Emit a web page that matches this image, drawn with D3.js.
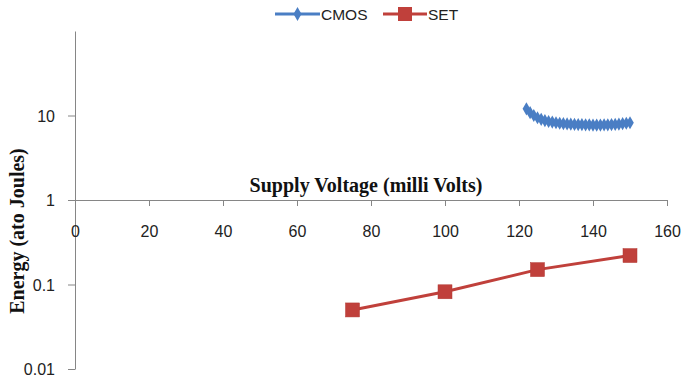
<!DOCTYPE html>
<html><head><meta charset="utf-8">
<script src="https://cdn.jsdelivr.net/npm/d3@7"></script>
<style>body{margin:0;background:#fff;}svg{display:block;}</style>
</head><body>
<svg id="c" width="682" height="380"></svg>
<script>
const xTicks = [0,20,40,60,80,100,120,140,160];
const yTicks = [0.01,0.1,1,10];
const yTickLabels = ["0.01","0.1","1","10"];
const cmosX = [122,123,124,125,126,127,128,129,130,131,132,133,134,135,136,137,138,139,140,141,142,143,144,145,146,147,148,149,150];
const cmosY = [12.0,10.8,10.0,9.4,9.0,8.7,8.5,8.35,8.2,8.1,8.0,7.95,7.9,7.85,7.8,7.8,7.75,7.75,7.7,7.7,7.7,7.75,7.75,7.8,7.85,7.9,8.0,8.1,8.2];
const setX = [75,100,125,150];
const setY = [0.05,0.082,0.15,0.22];

const svg = d3.select("#c");
const x = d3.scaleLinear().domain([0,160]).range([75,667]);
const y = d3.scaleLog().domain([0.01,100]).range([369,31]);
const axisCol = "#868686";
const font = "'Liberation Sans', Arial, sans-serif";
const serif = "'Liberation Serif','Times New Roman',serif";

// Y axis
const ya = d3.axisLeft(y).tickValues(yTicks).tickFormat((d,i)=>yTickLabels[i]).tickSize(7).tickSizeOuter(0);
const gy = svg.append("g").attr("transform","translate(75,0)").call(ya);
gy.select(".domain").attr("stroke",axisCol).attr("stroke-width",1);
gy.selectAll(".tick line").attr("stroke",axisCol);
gy.selectAll(".tick text").attr("font-family",font).attr("font-size",16).attr("fill","#222").attr("x",-20).attr("dy","0.36em");

// X axis crossing at y=1
const xa = d3.axisBottom(x).tickValues(xTicks).tickFormat(d3.format("d")).tickSize(6).tickSizeOuter(0);
const gx = svg.append("g").attr("transform",`translate(0,${y(1)})`).call(xa);
gx.select(".domain").attr("stroke",axisCol).attr("stroke-width",1);
gx.selectAll(".tick line").attr("stroke",axisCol);
gx.selectAll(".tick text").attr("font-family",font).attr("font-size",16).attr("fill","#222").attr("dy","0").attr("y",37);

// Titles
svg.append("text").attr("x",366).attr("y",192).attr("text-anchor","middle")
  .attr("font-family",serif).attr("font-weight","bold").attr("font-size",20)
  .attr("fill","#111").text("Supply Voltage (milli Volts)");
svg.append("text").attr("transform","translate(24,231) rotate(-90)").attr("text-anchor","middle")
  .attr("font-family",serif).attr("font-weight","bold").attr("font-size",20)
  .attr("fill","#111").text("Energy (ato Joules)");

const blue = "#4A7EC4", red = "#C0403B";
const line = d3.line().x(d=>x(d[0])).y(d=>y(d[1]));

// CMOS
const cmos = cmosX.map((v,i)=>[v,cmosY[i]]);
svg.append("path").datum(cmos).attr("d",line).attr("fill","none").attr("stroke",blue).attr("stroke-width",3);
svg.selectAll(".dm").data(cmos).enter().append("path")
  .attr("d",d3.symbol(d3.symbolDiamond,50)).attr("transform",d=>`translate(${x(d[0])},${y(d[1])})`).attr("fill",blue);

// SET
const set = setX.map((v,i)=>[v,setY[i]]);
svg.append("path").datum(set).attr("d",line).attr("fill","none").attr("stroke",red).attr("stroke-width",3);
svg.selectAll(".sq").data(set).enter().append("rect")
  .attr("x",d=>x(d[0])-7).attr("y",d=>y(d[1])-7).attr("width",14).attr("height",14)
  .attr("fill",red).attr("stroke","#B33A35").attr("stroke-width",0.5);

// Legend
const lg = svg.append("g");
lg.append("line").attr("x1",275).attr("x2",320).attr("y1",14).attr("y2",14).attr("stroke",blue).attr("stroke-width",3);
lg.append("path").attr("d",d3.symbol(d3.symbolDiamond,55)).attr("transform","translate(297.5,14)").attr("fill",blue);
lg.append("text").attr("x",321).attr("y",20).attr("font-family",font).attr("font-size",15.5).attr("fill","#222").text("CMOS");
lg.append("line").attr("x1",383).attr("x2",427).attr("y1",14).attr("y2",14).attr("stroke",red).attr("stroke-width",3);
lg.append("rect").attr("x",398).attr("y",7).attr("width",14).attr("height",14).attr("fill",red);
lg.append("text").attr("x",428).attr("y",20).attr("font-family",font).attr("font-size",15.5).attr("fill","#222").text("SET");
</script>
</body></html>
